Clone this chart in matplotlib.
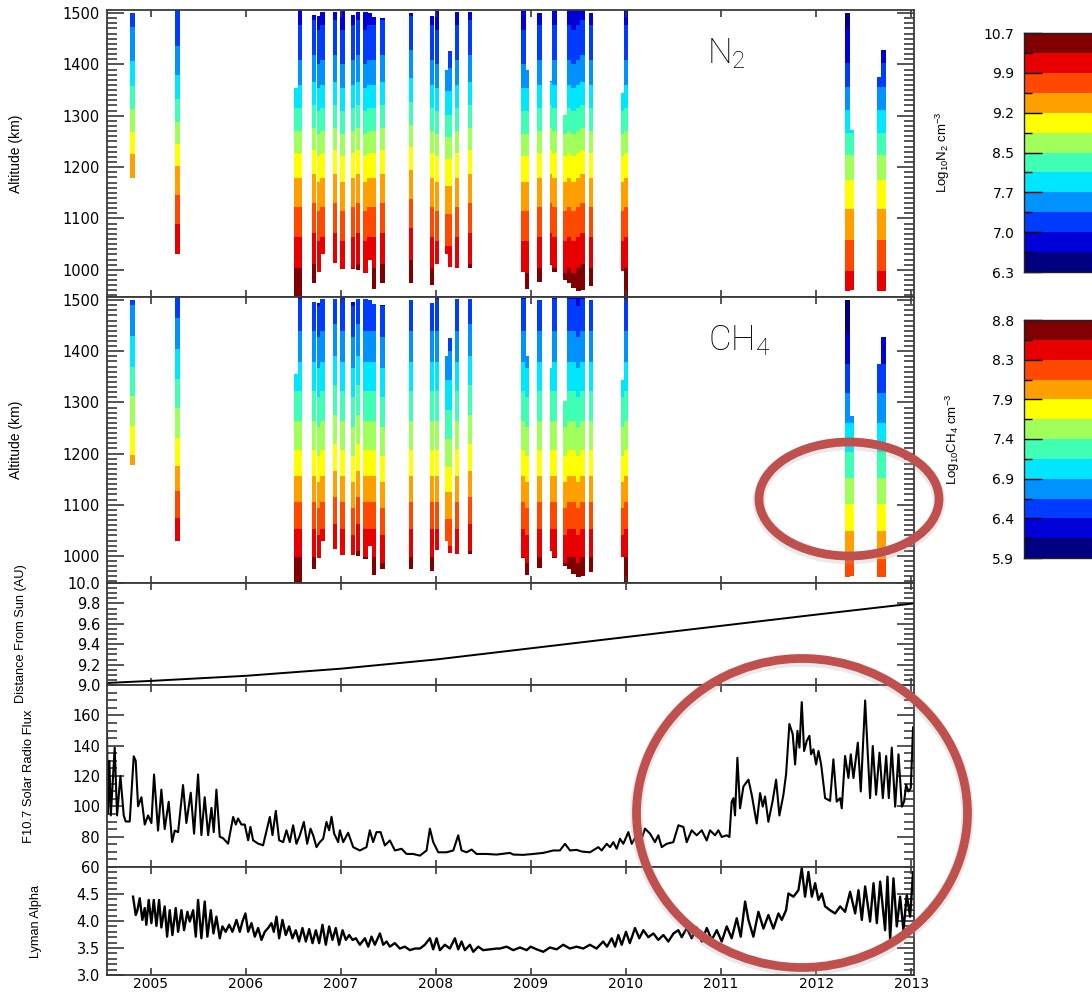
import numpy as np
import matplotlib
matplotlib.use("Agg")
import matplotlib.pyplot as plt
from matplotlib.colors import ListedColormap
from matplotlib.patches import Ellipse
from matplotlib.ticker import MultipleLocator, FixedLocator, NullLocator

plt.rcParams['mathtext.default'] = 'regular'

# ---- flybys (decimal year, lowest / highest altitude sampled in km)
flyby_t = [2004.81, 2005.28, 2006.53, 2006.57, 2006.72, 2006.77, 2006.81, 2006.94,
           2007.02, 2007.13, 2007.18, 2007.26, 2007.30, 2007.35, 2007.44, 2007.74,
           2007.96, 2008.01, 2008.12, 2008.15, 2008.22, 2008.36, 2008.92, 2008.96,
           2009.09, 2009.22, 2009.25, 2009.36, 2009.40, 2009.45, 2009.50, 2009.54,
           2009.63, 2009.97, 2010.00, 2012.33, 2012.38, 2012.67, 2012.71]
flyby_lo = [1178, 1030, 947, 947, 974, 995, 1030, 1014,
            1002, 1002, 1000, 994, 1020, 962, 974, 975,
            970, 1012, 1030, 1005, 1004, 1004, 995, 962,
            976, 1010, 996, 981, 975, 965, 958, 960,
            968, 998, 947, 958, 961, 958, 958]
flyby_hi = [1500, 1506, 1355, 1506, 1497, 1495, 1502, 1502,
            1504, 1496, 1502, 1502, 1500, 1492, 1490, 1500,
            1495, 1504, 1390, 1426, 1502, 1502, 1504, 1390,
            1500, 1368, 1504, 1302, 1506, 1506, 1506, 1506,
            1500, 1344, 1506, 1500, 1273, 1376, 1428]
# offset of each profile from the reference profile (log10 density)
n2_shift = [0.35, 0.15, 0.0, 0.0, 0.05, -0.05, 0.0, 0.05,
            -0.05, 0.0, 0.05, -0.05, 0.0, 0.0, 0.05, 0.1,
            0.0, -0.05, -0.1, -0.1, 0.0, 0.05, -0.05, -0.05,
            0.0, 0.05, 0.0, -0.05, 0.0, -0.05, 0.0, 0.05,
            0.0, -0.05, 0.0, -0.4, -0.4, -0.4, -0.4]
ch4_shift = [0.2, 0.1, 0.0, 0.0, 0.0, -0.05, 0.0, 0.05,
             0.0, -0.05, 0.05, 0.0, 0.0, 0.0, -0.05, 0.0,
             0.0, 0.0, -0.15, -0.15, 0.0, 0.05, 0.0, -0.05,
             0.0, 0.0, 0.0, -0.05, 0.0, 0.0, -0.05, 0.0,
             0.0, -0.05, 0.0, -0.5, -0.5, -0.5, -0.5]

# reference profiles (km -> log10 cm^-3)
alt_nodes = np.array([940, 1000, 1100, 1200, 1300, 1400, 1510])
n2_ref = np.array([10.7, 10.35, 9.75, 9.1, 8.25, 7.45, 6.85])
ch4_ref = np.array([8.8, 8.55, 8.1, 7.62, 7.2, 6.78, 6.35])

n2_levels = np.linspace(6.3, 10.7, 13)
ch4_levels = np.linspace(5.9, 8.8, 13)
n2_ticklabels = ["6.3", "7.0", "7.7", "8.5", "9.2", "9.9", "10.7"]
ch4_ticklabels = ["5.9", "6.4", "6.9", "7.4", "7.9", "8.3", "8.8"]

band_colors = ['#000080', '#0000D8', '#003CFF', '#0092FF', '#00E6FF', '#40FFB4',
               '#A0FF5A', '#FFFF00', '#FFA000', '#FF4800', '#E80000', '#800000']

# ---- Saturn distance from the sun
dist_year = [2004.54, 2005.0, 2006.0, 2007.0, 2008.0, 2009.0, 2010.0, 2011.0, 2012.0, 2013.03]
dist_au = [9.02, 9.04, 9.09, 9.16, 9.25, 9.36, 9.47, 9.58, 9.69, 9.80]

# ---- F10.7
f107_year = [2004.54, 2004.55, 2004.565, 2004.58, 2004.621, 2004.646, 2004.681, 2004.716, 2004.737,
             2004.779, 2004.821, 2004.842, 2004.867, 2004.902, 2004.937, 2004.972, 2005.007, 2005.035,
             2005.077, 2005.112, 2005.147, 2005.189, 2005.225, 2005.253, 2005.288, 2005.340, 2005.375,
             2005.421, 2005.456, 2005.498, 2005.533, 2005.568, 2005.604, 2005.639, 2005.663, 2005.691,
             2005.726, 2005.761, 2005.814, 2005.867, 2005.895, 2005.919, 2005.954, 2005.989, 2006.025,
             2006.049, 2006.077, 2006.130, 2006.182, 2006.253, 2006.281, 2006.316, 2006.351, 2006.393,
             2006.428, 2006.463, 2006.498, 2006.533, 2006.569, 2006.611, 2006.646, 2006.681, 2006.709,
             2006.744, 2006.779, 2006.814, 2006.849, 2006.877, 2006.902, 2006.930, 2006.972, 2006.990,
             2007.025, 2007.077, 2007.130, 2007.200, 2007.270, 2007.305, 2007.340, 2007.375, 2007.418,
             2007.463, 2007.516, 2007.569, 2007.639, 2007.691, 2007.761, 2007.832, 2007.902, 2007.937,
             2007.972, 2008.025, 2008.112, 2008.183, 2008.235, 2008.270, 2008.323, 2008.376, 2008.428,
             2008.533, 2008.639, 2008.779, 2008.814, 2008.919, 2009.025, 2009.130, 2009.235, 2009.305,
             2009.358, 2009.411, 2009.481, 2009.533, 2009.621, 2009.709, 2009.744, 2009.797, 2009.832,
             2009.867, 2009.902, 2009.937, 2009.972, 2010.025, 2010.060, 2010.112, 2010.165, 2010.200,
             2010.253, 2010.305, 2010.340, 2010.376, 2010.428, 2010.498, 2010.551, 2010.604, 2010.639,
             2010.691, 2010.744, 2010.797, 2010.849, 2010.884, 2010.937, 2010.972, 2011.007, 2011.060,
             2011.088, 2011.112, 2011.130, 2011.147, 2011.172, 2011.200, 2011.235, 2011.288, 2011.323,
             2011.375, 2011.411, 2011.439, 2011.463, 2011.498, 2011.544, 2011.579, 2011.614, 2011.656,
             2011.684, 2011.719, 2011.754, 2011.779, 2011.804, 2011.825, 2011.849, 2011.874, 2011.902,
             2011.930, 2011.947, 2011.972, 2012.000, 2012.025, 2012.053, 2012.095, 2012.147, 2012.182,
             2012.217, 2012.253, 2012.270, 2012.305, 2012.340, 2012.365, 2012.393, 2012.439, 2012.470,
             2012.516, 2012.544, 2012.568, 2012.596, 2012.631, 2012.667, 2012.702, 2012.737, 2012.765,
             2012.796, 2012.832, 2012.867, 2012.902, 2012.926, 2012.947, 2012.972, 2012.996, 2013.02]
f107_val = [148, 95, 130, 94, 138.7, 94, 120, 94, 90,
            90, 133, 130, 100, 106, 88, 94, 89, 121,
            84, 111, 85, 103, 76.5, 84, 83, 114, 89,
            109, 82, 121, 81, 106, 81, 99, 83, 111,
            80, 79, 75.4, 93, 88, 92, 88, 88, 77.6,
            86.5, 77.6, 75.4, 74.3, 93, 81, 97, 77.6, 76.4,
            84.2, 76.4, 87.5, 75.3, 80.9, 89.7, 75.3, 85.3, 80.9,
            73.1, 76.4, 78.6, 89.7, 84.2, 93.1, 82, 76.4, 84.2,
            76.4, 82.6, 73.1, 70.9, 73.1, 84.2, 76.4, 83, 83,
            74.2, 77.5, 70.9, 72, 68.6, 68.6, 67.5, 70.9, 85.3,
            76.4, 69.7, 69.7, 70.9, 80.9, 70.9, 69.7, 71.5, 68.6,
            68.6, 68.2, 69.3, 68.2, 68, 68.6, 69.3, 70.9, 70.9,
            75.3, 70.9, 71.3, 70.2, 69.7, 73.1, 70.9, 75.3, 73.1,
            76.4, 72, 78.6, 75.3, 83, 75.3, 80.9, 78.6, 85.3,
            82, 76.4, 80.9, 73.1, 75.3, 76.4, 87.5, 86.4, 76.4,
            84.2, 80.9, 84.2, 77.5, 84.2, 80.9, 84.2, 79.8, 80.9,
            79.8, 103, 105.4, 94, 132, 98.7, 113, 117.6, 107.6,
            88.7, 108.7, 99.8, 106.5, 89.8, 104, 117.6, 94, 107.6,
            121, 154.3, 147.6, 127.6, 149.8, 138.7, 168.7, 136.5, 143.2,
            146.5, 134.3, 137.6, 127.6, 136.5, 127.6, 105.4, 103.6, 131,
            103.1, 105.4, 98.7, 133.2, 118.7, 134.3, 118.7, 142, 109.8,
            169.8, 134.3, 105.4, 139.8, 107.6, 135.4, 105.4, 133.2, 105.4,
            138.7, 99.8, 134.3, 99.8, 103.1, 114.2, 109.8, 112, 152]

# ---- Lyman alpha
lya_year = [2004.814, 2004.842, 2004.860, 2004.884, 2004.912, 2004.937, 2004.954, 2004.979, 2005.007,
            2005.032, 2005.060, 2005.088, 2005.112, 2005.147, 2005.172, 2005.200, 2005.228, 2005.263,
            2005.288, 2005.323, 2005.351, 2005.386, 2005.411, 2005.446, 2005.474, 2005.498, 2005.533,
            2005.568, 2005.596, 2005.632, 2005.660, 2005.691, 2005.726, 2005.754, 2005.789, 2005.825,
            2005.860, 2005.902, 2005.937, 2005.965, 2005.996, 2006.025, 2006.060, 2006.095, 2006.130,
            2006.165, 2006.200, 2006.235, 2006.270, 2006.295, 2006.323, 2006.351, 2006.386, 2006.421,
            2006.456, 2006.491, 2006.526, 2006.561, 2006.596, 2006.632, 2006.667, 2006.702, 2006.737,
            2006.772, 2006.807, 2006.842, 2006.877, 2006.912, 2006.947, 2006.982, 2007.018, 2007.053,
            2007.088, 2007.123, 2007.158, 2007.200, 2007.253, 2007.288, 2007.323, 2007.358, 2007.411,
            2007.446, 2007.481, 2007.516, 2007.568, 2007.621, 2007.674, 2007.726, 2007.779, 2007.832,
            2007.884, 2007.937, 2007.972, 2008.007, 2008.042, 2008.095, 2008.147, 2008.200, 2008.235,
            2008.270, 2008.305, 2008.358, 2008.393, 2008.446, 2008.498, 2008.568, 2008.639, 2008.674,
            2008.744, 2008.814, 2008.884, 2008.955, 2008.997, 2009.060, 2009.130, 2009.200, 2009.270,
            2009.340, 2009.410, 2009.480, 2009.550, 2009.620, 2009.690, 2009.760, 2009.800, 2009.850,
            2009.885, 2009.920, 2009.955, 2010.000, 2010.040, 2010.095, 2010.140, 2010.183, 2010.235,
            2010.288, 2010.340, 2010.393, 2010.446, 2010.500, 2010.551, 2010.586, 2010.639, 2010.691,
            2010.744, 2010.797, 2010.850, 2010.902, 2010.955, 2011.007, 2011.060, 2011.112, 2011.165,
            2011.207, 2011.253, 2011.288, 2011.340, 2011.393, 2011.446, 2011.498, 2011.551, 2011.604,
            2011.639, 2011.684, 2011.709, 2011.762, 2011.814, 2011.849, 2011.884, 2011.919, 2011.955,
            2011.990, 2012.025, 2012.060, 2012.095, 2012.147, 2012.200, 2012.253, 2012.305, 2012.358,
            2012.411, 2012.446, 2012.481, 2012.516, 2012.568, 2012.604, 2012.639, 2012.674, 2012.726,
            2012.751, 2012.779, 2012.814, 2012.849, 2012.884, 2012.919, 2012.954, 2012.989, 2013.02]
lya_val = [4.45, 4.11, 4.2, 4.42, 4.02, 4.24, 3.93, 4.39, 3.96,
           4.39, 3.91, 4.39, 3.88, 4.27, 3.71, 4.2, 3.74, 4.24,
           3.8, 4.2, 3.83, 4.17, 3.99, 4.2, 3.71, 4.39, 3.68,
           4.36, 3.71, 4.2, 3.77, 4.08, 3.68, 3.9, 3.8, 3.93,
           3.8, 4.02, 3.8, 3.99, 4.14, 3.8, 3.96, 3.71, 3.87,
           3.65, 3.8, 3.87, 3.96, 3.8, 4.08, 3.68, 4.02, 3.74,
           3.9, 3.68, 3.83, 3.62, 3.87, 3.62, 3.85, 3.59, 3.83,
           3.59, 3.93, 3.56, 3.9, 3.65, 3.87, 3.56, 3.83, 3.65,
           3.74, 3.65, 3.68, 3.56, 3.68, 3.525, 3.71, 3.56, 3.77,
           3.56, 3.62, 3.525, 3.59, 3.49, 3.525, 3.46, 3.49, 3.49,
           3.56, 3.68, 3.475, 3.68, 3.46, 3.56, 3.49, 3.68, 3.475,
           3.62, 3.46, 3.56, 3.43, 3.525, 3.46, 3.475, 3.49, 3.49,
           3.525, 3.46, 3.51, 3.46, 3.525, 3.475, 3.43, 3.51, 3.475,
           3.56, 3.49, 3.525, 3.49, 3.56, 3.49, 3.62, 3.525, 3.68,
           3.525, 3.74, 3.56, 3.8, 3.59, 3.87, 3.68, 3.83, 3.70,
           3.77, 3.65, 3.74, 3.62, 3.77, 3.83, 3.70, 3.87, 3.68,
           3.88, 3.62, 3.87, 3.65, 3.83, 3.62, 3.9, 3.68, 4.05,
           3.71, 4.36, 4.02, 3.71, 4.17, 3.86, 4.11, 3.86, 4.14,
           4.02, 4.2, 4.51, 4.45, 4.57, 4.975, 4.45, 4.91, 4.45,
           4.70, 4.39, 4.51, 4.27, 4.2, 4.14, 4.27, 4.17, 4.54,
           4.14, 4.57, 4.02, 4.64, 3.99, 4.70, 3.96, 4.73, 3.83,
           4.82, 3.65, 4.79, 3.9, 4.45, 3.83, 4.48, 4.08, 4.9]

# ---- figure
W, H = 1092, 993
fig = plt.figure(figsize=(W / 100, H / 100), dpi=100)


def px_axes(x0, y0, x1, y1):
    return fig.add_axes([x0 / W, 1 - y1 / H, (x1 - x0) / W, (y1 - y0) / H])


ax_n2 = px_axes(107, 10, 914, 297)
ax_ch4 = px_axes(107, 297, 914, 583)
ax_d = px_axes(107, 583, 914, 685)
ax_f = px_axes(107, 685, 914, 867)
ax_l = px_axes(107, 867, 914, 975)
panels = [ax_n2, ax_ch4, ax_d, ax_f, ax_l]

label_font = ['Liberation Sans', 'DejaVu Sans']
spine_col = '#3a3a3a'

cmap = ListedColormap(band_colors)
cmap.set_under(band_colors[0])
cmap.set_over(band_colors[-1])
strip_w = 0.048


def draw_strips(ax, ref, shifts, levels):
    for t, lo, hi, s in zip(flyby_t, flyby_lo, flyby_hi, shifts):
        inside = alt_nodes[(alt_nodes > lo) & (alt_nodes < hi)]
        y = np.concatenate([[lo], inside, [hi]])
        z = np.interp(y, alt_nodes, ref) + s
        X, Y = np.meshgrid([t - strip_w / 2, t + strip_w / 2], y)
        Z = np.column_stack([z, z])
        ax.contourf(X, Y, Z, levels=levels, cmap=cmap, extend='both', antialiased=False)


draw_strips(ax_n2, n2_ref, n2_shift, n2_levels)
draw_strips(ax_ch4, ch4_ref, ch4_shift, ch4_levels)

ax_d.plot(dist_year, dist_au, color='black', lw=1.4)
ax_f.plot(f107_year, f107_val, color='black', lw=1.5)
ax_l.plot(lya_year, lya_val, color='black', lw=1.7)

for ax in [ax_n2, ax_ch4]:
    ax.set_ylim(947, 1506)
    ax.yaxis.set_major_locator(FixedLocator([1000, 1100, 1200, 1300, 1400, 1500]))
    ax.yaxis.set_minor_locator(MultipleLocator(10))
    ax.set_ylabel('Altitude (km)', family=label_font, fontsize=10)

ax_d.set_ylim(9.0, 10.0)
ax_d.set_yticks([9.0, 9.2, 9.4, 9.6, 9.8, 10.0])
ax_d.set_yticklabels(['9.0', '9.2', '9.4', '9.6', '9.8', '10.0'])
ax_d.yaxis.set_minor_locator(MultipleLocator(0.05))
ax_d.set_ylabel('Distance From Sun (AU)', family=label_font, fontsize=9.2)

ax_f.set_ylim(60, 180)
ax_f.set_yticks([60, 80, 100, 120, 140, 160])
ax_f.yaxis.set_minor_locator(MultipleLocator(5))
ax_f.set_ylabel('F10.7 Solar Radio Flux', family=label_font, fontsize=9.4)

ax_l.set_ylim(3.0, 5.0)
ax_l.set_yticks([3.0, 3.5, 4.0, 4.5])
ax_l.set_yticklabels(['3.0', '3.5', '4.0', '4.5'])
ax_l.yaxis.set_minor_locator(MultipleLocator(0.1))
ax_l.set_ylabel('Lyman Alpha', family=label_font, fontsize=9.2)

label_x = {ax_n2: 23, ax_ch4: 23, ax_d: 27, ax_f: 35, ax_l: 42}
for ax in panels:
    ax.set_xlim(2004.54, 2013.03)
    ax.set_xticks(range(2005, 2014))
    ax.xaxis.set_minor_locator(NullLocator())
    ax.tick_params(which='both', direction='in', top=True, right=True,
                   color=spine_col, width=1.2, labelsize=10.5)
    ax.tick_params(axis='x', which='major', length=5, pad=1.5, labelsize=10)
    ax.tick_params(axis='y', which='major', length=12, pad=5)
    ax.tick_params(axis='y', which='minor', length=7)
    if ax is not ax_l:
        ax.tick_params(axis='x', labelbottom=False)
    for sp in ax.spines.values():
        sp.set_color(spine_col)
        sp.set_linewidth(1.3)
    ax.yaxis.set_label_coords((label_x[ax] - 107) / 807, 0.5)

# panel titles
ax_n2.text(0.744, 0.815, 'N$_2$', transform=ax_n2.transAxes, fontsize=25,
           family=['Roboto', 'DejaVu Sans'], fontweight='light', va='baseline')
ax_ch4.text(0.745, 0.812, 'CH$_4$', transform=ax_ch4.transAxes, fontsize=25,
            family=['Roboto', 'DejaVu Sans'], fontweight='light', va='baseline')


# colour bars
def draw_cbar(y0, y1, levels, ticklabels, label, label_x):
    cax = px_axes(1024, y0, 1100, y1)
    cax.pcolormesh([0, 1], levels, np.arange(12).reshape(-1, 1), cmap=ListedColormap(band_colors),
                   vmin=-0.5, vmax=11.5)
    cax.set_xlim(0, 1)
    cax.set_ylim(levels[0], levels[-1])
    cax.set_xticks([])
    cax.set_yticks(levels[::2])
    cax.set_yticklabels(ticklabels)
    cax.yaxis.set_minor_locator(FixedLocator(levels[1::2]))
    cax.tick_params(axis='y', which='both', direction='in', left=True, right=False,
                    color='black', width=1.0, labelsize=10)
    cax.tick_params(axis='y', which='major', length=13, pad=7)
    cax.tick_params(axis='y', which='minor', length=6)
    for sp in cax.spines.values():
        sp.set_color('#222222')
        sp.set_linewidth(1.0)
    fig.text(label_x / W, 1 - (y0 + y1) / 2 / H, label, rotation=90, ha='center', va='center',
             family=label_font, fontsize=9.5)


draw_cbar(33, 272, n2_levels, n2_ticklabels, 'Log$_{10}$N$_2$ cm$^{-3}$', 943)
draw_cbar(320, 558, ch4_levels, ch4_ticklabels, 'Log$_{10}$CH$_4$ cm$^{-3}$', 953)

# red highlight rings
ring_col = '#C0504D'
for cx, cy, w, h in [(849, 499, 180, 114), (802, 813, 331, 309)]:
    shadow = Ellipse((cx / W, 1 - (cy + 2) / H), w / W, h / H, transform=fig.transFigure,
                     fill=False, ec='#aaaaaa', lw=9, alpha=0.25)
    ring = Ellipse((cx / W, 1 - cy / H), w / W, h / H, transform=fig.transFigure,
                   fill=False, ec=ring_col, lw=6.3)
    fig.add_artist(shadow)
    fig.add_artist(ring)

fig.savefig('out.png', dpi=100)
